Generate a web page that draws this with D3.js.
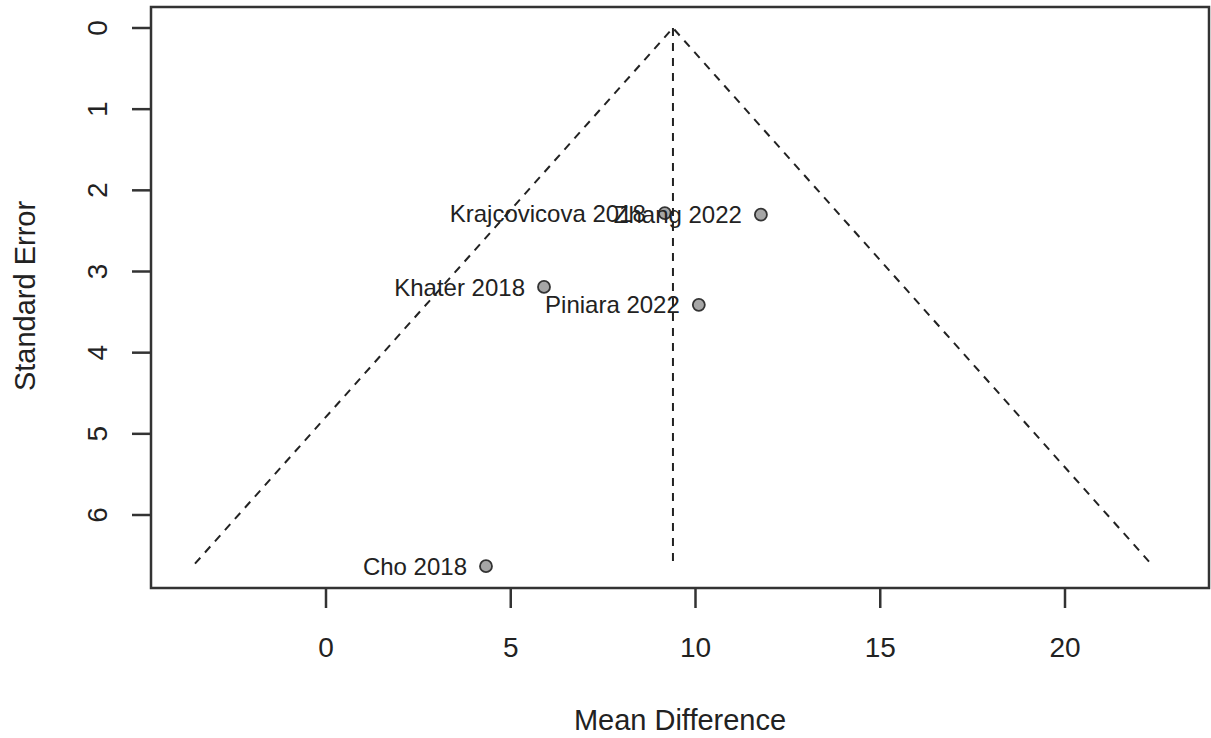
<!DOCTYPE html>
<html>
  <head>
    <title>Funnel plot</title>
    <script src="https://d3js.org/d3.v7.min.js"></script>
    <style>
      html, body {
        margin:0;
        padding:0;
        background:#fff;
      }
      text {
        font-family: "Liberation Sans", Arial, sans-serif;
        fill:#222;
      }
    </style>
  </head>

  <body>
    <svg id="chart" width="1211" height="738"></svg>

    <script>
      // study data
      var studies = ["Krajcovicova 2018", "Zhang 2022", "Khater 2018", "Piniara 2022", "Cho 2018"];
      var meanDiff = [9.17, 11.77, 5.90, 10.09, 4.33];
      var stdErr = [2.28, 2.30, 3.19, 3.41, 6.63];

      var pooled = 9.39;
      var seMax = 6.6;

      var xTicks = [0, 5, 10, 15, 20];
      var yTicks = [0, 1, 2, 3, 4, 5, 6];

      var svg = d3.select("#chart");

      // plot box edges (don't call it "top", that's window.top)
      var boxL = 151, boxR = 1209, boxT = 7, boxB = 588;

      var x = d3.scaleLinear().domain([0, 20]).range([326, 1065]);
      var y = d3.scaleLinear().domain([0, 6]).range([28, 515]);

      // funnel
      var funnel = [[pooled - 1.96 * seMax, seMax], [pooled, 0], [pooled + 1.96 * seMax, seMax]];
      svg.append("path")
        .attr("d", d3.line().x(d => x(d[0])).y(d => y(d[1]))(funnel))
        .attr("fill", "none")
        .attr("stroke", "#222")
        .attr("stroke-width", 2)
        .attr("stroke-dasharray", "8,7");

      svg.append("line")
        .attr("x1", x(pooled)).attr("x2", x(pooled))
        .attr("y1", y(0)).attr("y2", y(seMax) + 4)
        .attr("stroke", "#222")
        .attr("stroke-width", 2)
        .attr("stroke-dasharray", "8,7");

      // points
      var data = studies.map((s, i) => ({name: s, md: meanDiff[i], se: stdErr[i]}));

      svg.selectAll("circle.pt").data(data).enter().append("circle")
        .attr("class", "pt")
        .attr("cx", d => x(d.md))
        .attr("cy", d => y(d.se))
        .attr("r", 6)
        .attr("fill", "#a6a6a6")
        .attr("stroke", "#333")
        .attr("stroke-width", 1.8);

      svg.selectAll("text.lab").data(data).enter().append("text")
        .attr("class", "lab")
        .attr("x", d => x(d.md) - 19)
        .attr("y", d => y(d.se))
        .attr("dy", "0.36em")
        .attr("text-anchor", "end")
        .style("font-size", "24px")
        .text(d => d.name);

      // box
      svg.append("rect")
        .attr("x", boxL).attr("y", boxT)
        .attr("width", boxR - boxL).attr("height", boxB - boxT)
        .attr("fill", "none")
        .attr("stroke", "#333")
        .attr("stroke-width", 2.5);

      // x axis
      var xa = svg.append("g");
      xa.selectAll("line").data(xTicks).enter().append("line")
        .attr("x1", d => x(d)).attr("x2", d => x(d))
        .attr("y1", boxB).attr("y2", boxB + 20)
        .attr("stroke", "#333").attr("stroke-width", 2.5);
      xa.selectAll("text").data(xTicks).enter().append("text")
        .attr("x", d => x(d))
        .attr("y", 657)
        .attr("text-anchor", "middle")
        .style("font-size", "28px")
        .text(d => d);

      // y axis
      var ya = svg.append("g");
      ya.selectAll("line").data(yTicks).enter().append("line")
        .attr("x1", boxL - 19).attr("x2", boxL)
        .attr("y1", d => y(d)).attr("y2", d => y(d))
        .attr("stroke", "#333").attr("stroke-width", 2.5);
      ya.selectAll("text").data(yTicks).enter().append("text")
        .attr("transform", d => "translate(107," + y(d) + ") rotate(-90)")
        .attr("text-anchor", "middle")
        .style("font-size", "28px")
        .text(d => d);

      // titles
      svg.append("text")
        .attr("x", 680).attr("y", 730)
        .attr("text-anchor", "middle")
        .style("font-size", "29px")
        .text("Mean Difference");

      svg.append("text")
        .attr("transform", "translate(35,296) rotate(-90)")
        .attr("text-anchor", "middle")
        .style("font-size", "29px")
        .text("Standard Error");
    </script>
  </body>
</html>
